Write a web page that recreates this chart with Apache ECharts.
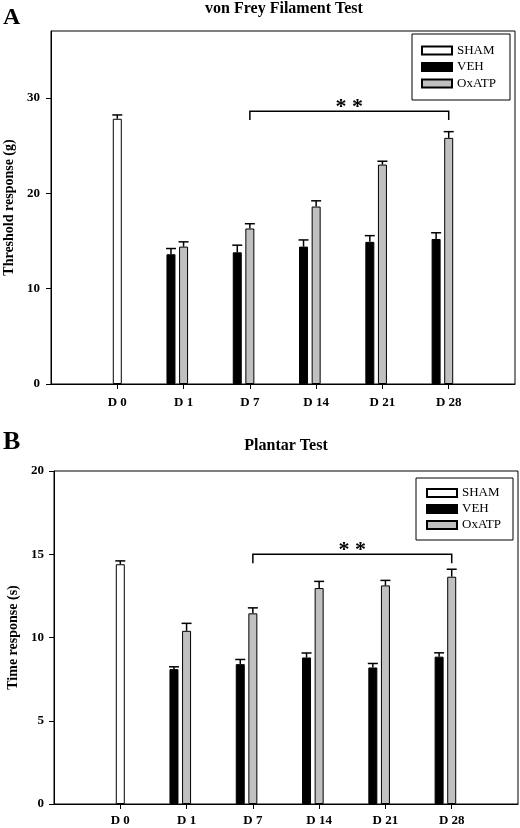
<!DOCTYPE html>
<html>
<head>
<meta charset="utf-8">
<script src="https://cdn.jsdelivr.net/npm/echarts@6/dist/echarts.min.js"></script>
<style>
html,body{margin:0;padding:0;background:#fff;}
#chart{width:520px;height:828px;}
</style>
</head>
<body>
<div id="chart"></div>
<script>
// ---------- data ----------
const categories = ['', 'D 0', 'D 1', 'D 7', 'D 14', 'D 21', 'D 28', ''];
const legendNames = ['SHAM', 'VEH', 'OxATP'];

// Panel A: von Frey Filament Test (g)
const shamA    = [null, 27.8, null, null, null, null, null, null];
const shamAErr = [null, 0.4,  null, null, null, null, null, null];
const vehA     = [null, null, 13.6, 13.8, 14.4, 14.9, 15.2, null];
const vehAErr  = [null, null, 0.6,  0.75, 0.7,  0.65, 0.65, null];
const oxA      = [null, null, 14.4, 16.3, 18.6, 23.0, 25.8, null];
const oxAErr   = [null, null, 0.5,  0.5,  0.6,  0.35, 0.65, null];
const ticksA   = [0, 10, 20, 30];
const bracketA = [3, 6, 28.6, 27.66];   // from D 7 to D 28, line level, drop level

// Panel B: Plantar Test (s)
const shamB    = [null, 14.4, null, null, null, null, null, null];
const shamBErr = [null, 0.2,  null, null, null, null, null, null];
const vehB     = [null, null, 8.1,  8.4,  8.8,  8.2,  8.85, null];
const vehBErr  = [null, null, 0.14, 0.28, 0.27, 0.24, 0.23, null];
const oxB      = [null, null, 10.4, 11.45, 12.97, 13.13, 13.65, null];
const oxBErr   = [null, null, 0.45, 0.33, 0.4,  0.3,  0.45, null];
const ticksB   = [0, 5, 10, 15, 20];
const bracketB = [3, 6, 15.0, 14.46];

// ---------- styling ----------
const FONT = '"Liberation Serif", "Times New Roman", serif';
const BAR_W = 9;
const GAP_RATIO = 0.4;
const VEH_OFFSET = -(BAR_W * (1 + GAP_RATIO));
const GRAY = '#c0c0c0';

function errData(vals, errs) {
  const out = [];
  vals.forEach((v, i) => { if (v != null) out.push([i, v, errs[i]]); });
  return out;
}

function errSeries(idx, vals, errs, offset) {
  return {
    type: 'custom', xAxisIndex: idx, yAxisIndex: idx, z: 5,
    data: errData(vals, errs), encode: { x: 0, y: 1 },
    silent: true,
    renderItem: function (params, api) {
      const i = api.value(0), v = api.value(1), e = api.value(2);
      const b = api.coord([i, v]);
      const t = api.coord([i, v + e]);
      const x = b[0] + offset;
      const st = { stroke: '#000', lineWidth: 1.5 };
      return { type: 'group', children: [
        { type: 'line', shape: { x1: x, y1: b[1], x2: x, y2: t[1] }, style: st },
        { type: 'line', shape: { x1: x - 5, y1: t[1], x2: x + 5, y2: t[1] }, style: st }
      ]};
    }
  };
}

function bracketSeries(idx, br) {
  return {
    type: 'custom', xAxisIndex: idx, yAxisIndex: idx, z: 5, silent: true,
    data: [br], encode: { x: [0, 1], y: [2, 3] },
    renderItem: function (params, api) {
      const p1 = api.coord([api.value(0), api.value(2)]);
      const p2 = api.coord([api.value(1), api.value(2)]);
      const d1 = api.coord([api.value(0), api.value(3)]);
      return { type: 'group', children: [
        { type: 'polyline', shape: { points: [[p1[0], d1[1]], [p1[0], p1[1]], [p2[0], p2[1]], [p2[0], d1[1]]] },
          style: { stroke: '#000', lineWidth: 1.5, fill: null } },
        { type: 'text', x: (p1[0] + p2[0]) / 2, y: p1[1] - 4,
          style: { text: '* *', font: 'bold 22px ' + FONT, fill: '#000', align: 'center', verticalAlign: 'middle' } }
      ]};
    }
  };
}

function barSeries(idx) {
  const sham = idx === 0 ? shamA : shamB;
  const veh = idx === 0 ? vehA : vehB;
  const ox = idx === 0 ? oxA : oxB;
  return [
    { name: 'VEH', type: 'bar', xAxisIndex: idx, yAxisIndex: idx, data: veh, barWidth: BAR_W,
      barGap: (GAP_RATIO * 100) + '%', itemStyle: { color: '#000', borderColor: '#000', borderWidth: 1 } },
    { name: 'SHAM', type: 'bar', xAxisIndex: idx, yAxisIndex: idx, data: sham, barWidth: BAR_W, stack: 's' + idx,
      barGap: (GAP_RATIO * 100) + '%', itemStyle: { color: '#fff', borderColor: '#000', borderWidth: 1 } },
    { name: 'OxATP', type: 'bar', xAxisIndex: idx, yAxisIndex: idx, data: ox, barWidth: BAR_W, stack: 's' + idx,
      barGap: (GAP_RATIO * 100) + '%', itemStyle: { color: GRAY, borderColor: '#000', borderWidth: 1 } },
    { name: '_pad', type: 'bar', xAxisIndex: idx, yAxisIndex: idx, data: categories.map(() => null), barWidth: BAR_W,
      barGap: (GAP_RATIO * 100) + '%' }
  ];
}

const labelStyle = { color: '#000', fontFamily: FONT, fontWeight: 'bold', fontSize: 13 };

function xAxis(idx, margin) {
  return {
    type: 'category', gridIndex: idx, data: categories, boundaryGap: false,
    axisLine: { lineStyle: { color: '#000', width: 1 } },
    axisTick: { length: 5, lineStyle: { color: '#000' }, interval: function (i) { return i > 0 && i < categories.length - 1; } },
    axisLabel: Object.assign({ margin: margin, interval: 0 }, labelStyle),
    splitLine: { show: false }
  };
}

function yAxis(idx, max, interval, ticks, name, nameGap, margin) {
  return {
    type: 'value', gridIndex: idx, min: 0, max: max, interval: interval,
    name: name, nameLocation: 'middle', nameGap: nameGap,
    nameTextStyle: { color: '#000', fontFamily: FONT, fontWeight: 'bold', fontSize: 14 },
    axisLine: { show: true, lineStyle: { color: '#000', width: 1 } },
    axisTick: { show: true, length: 5, lineStyle: { color: '#000' }, customValues: ticks },
    axisLabel: Object.assign({ margin: margin, customValues: ticks }, labelStyle),
    splitLine: { show: false }
  };
}

function legend(left, top, padding, itemGap) {
  return {
    left: left, top: top, orient: 'vertical', data: legendNames, selectedMode: false,
    itemWidth: 30, itemHeight: 8, itemGap: itemGap, icon: 'rect',
    borderColor: '#000', borderWidth: 1, padding: padding,
    textStyle: { color: '#000', fontFamily: FONT, fontSize: 13 }
  };
}

const chart = echarts.init(document.getElementById('chart'), null, { renderer: 'canvas' });
chart.setOption({
  animation: false,
  backgroundColor: '#fff',
  grid: [
    { left: 51, top: 31, width: 464, height: 353, show: true, borderColor: '#000', borderWidth: 1, containLabel: false, outerBoundsMode: 'none' },
    { left: 54, top: 471, width: 464, height: 333, show: true, borderColor: '#000', borderWidth: 1, containLabel: false, outerBoundsMode: 'none' }
  ],
  xAxis: [xAxis(0, 12), xAxis(1, 10)],
  yAxis: [
    yAxis(0, 37, 10, ticksA, 'Threshold response (g)', 30, 11),
    yAxis(1, 20, 5, ticksB, 'Time response (s)', 33, 10)
  ],
  legend: [
    legend(412, 34, [10, 14, 10, 9], 3.5),
    legend(416, 478, [8.5, 12, 8.5, 10], 3)
  ],
  graphic: [
    { type: 'text', x: 3, y: 18, style: { text: 'A', font: 'bold 24px ' + FONT, fill: '#000', verticalAlign: 'middle' } },
    { type: 'text', x: 284, y: 9, style: { text: 'von Frey Filament Test', font: 'bold 16px ' + FONT, fill: '#000', align: 'center', verticalAlign: 'middle' } },
    { type: 'text', x: 3, y: 442, style: { text: 'B', font: 'bold 26px ' + FONT, fill: '#000', verticalAlign: 'middle' } },
    { type: 'text', x: 286, y: 446, style: { text: 'Plantar Test', font: 'bold 16px ' + FONT, fill: '#000', align: 'center', verticalAlign: 'middle' } }
  ],
  series: [].concat(
    barSeries(0),
    [errSeries(0, shamA, shamAErr, 0), errSeries(0, vehA, vehAErr, VEH_OFFSET), errSeries(0, oxA, oxAErr, 0), bracketSeries(0, bracketA)],
    barSeries(1),
    [errSeries(1, shamB, shamBErr, 0), errSeries(1, vehB, vehBErr, VEH_OFFSET), errSeries(1, oxB, oxBErr, 0), bracketSeries(1, bracketB)]
  )
});
</script>
</body>
</html>
